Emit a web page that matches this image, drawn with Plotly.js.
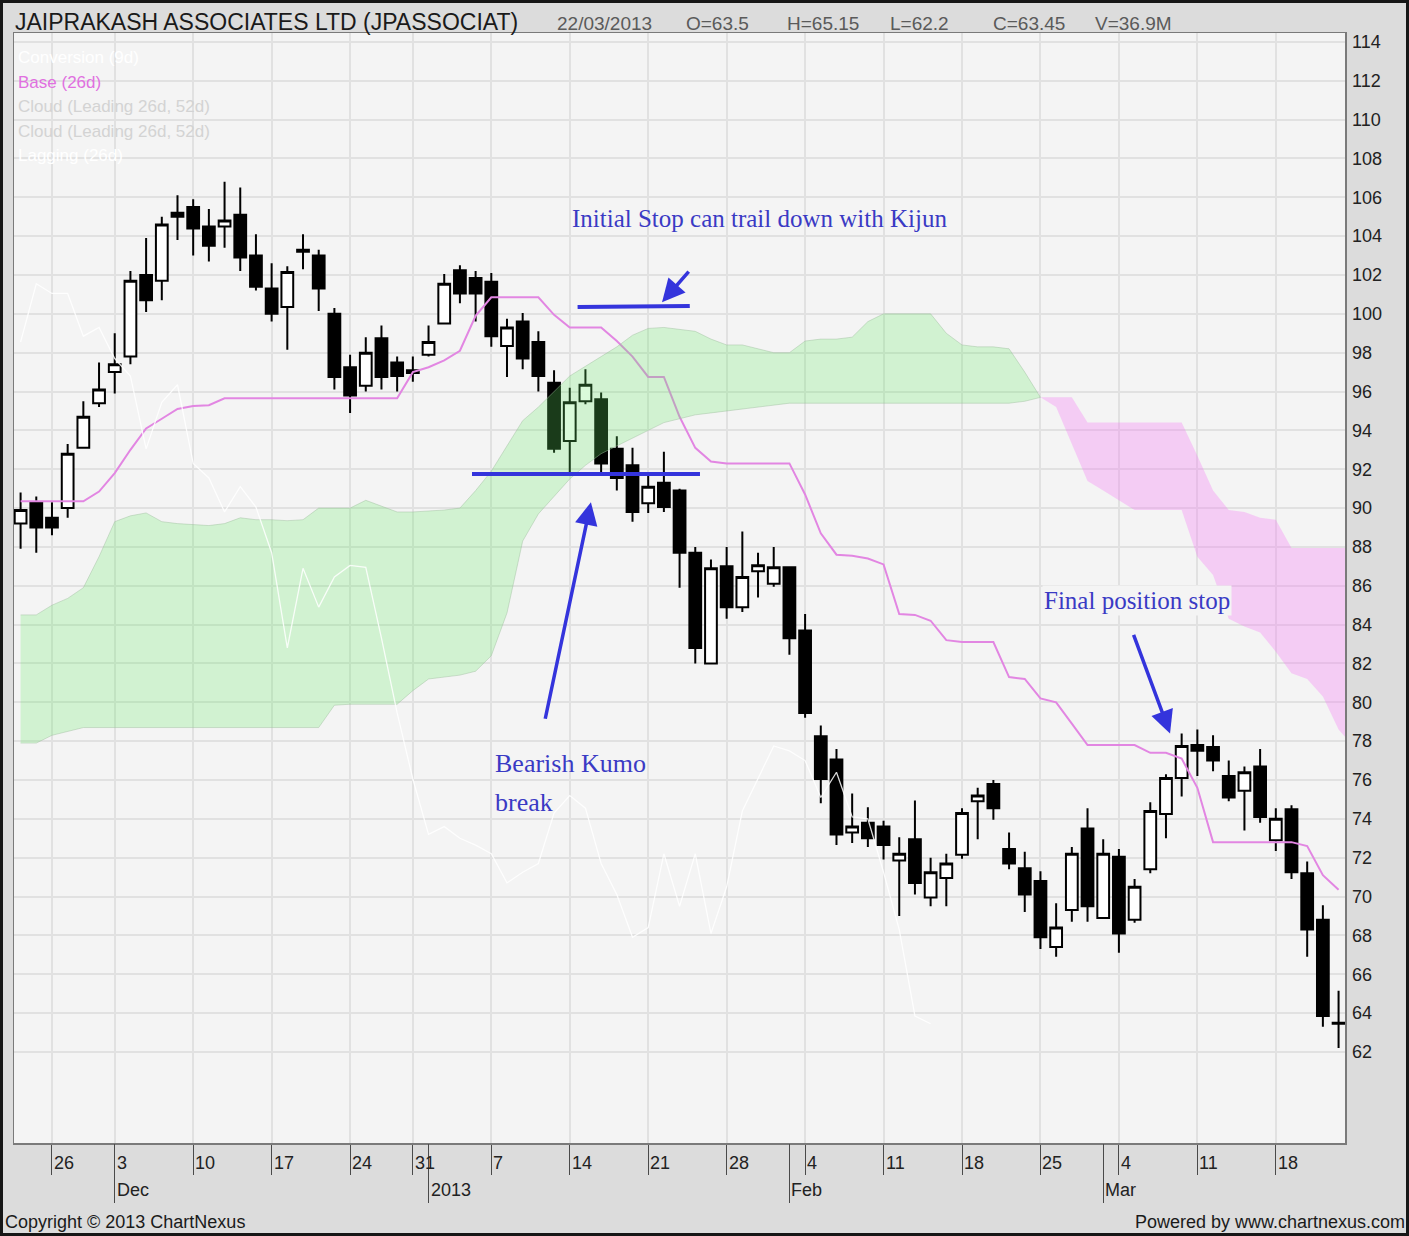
<!DOCTYPE html>
<html>
<head>
<meta charset="utf-8">
<script src="https://cdn.plot.ly/plotly-3.0.1.min.js"></script>
<style>
html,body{margin:0;padding:0;background:#dcdcdc;}
#wrap{position:relative;width:1409px;height:1236px;overflow:hidden;}
#chart{width:1409px;height:1236px;}
#frame{position:absolute;left:0;top:0;width:1409px;height:1236px;box-sizing:border-box;border:3px solid #161616;pointer-events:none;}
</style>
</head>
<body>
<div id="wrap"><div id="chart"></div><div id="frame"></div></div>
<script>
// ---------------- DATA ----------------
const symbolName = 'JAIPRAKASH ASSOCIATES LTD (JPASSOCIAT)';
const volumeText = '36.9M';

const dates = [
 '2012-11-22','2012-11-23','2012-11-26','2012-11-27','2012-11-29','2012-11-30',
 '2012-12-03','2012-12-04','2012-12-05','2012-12-06','2012-12-07','2012-12-10','2012-12-11','2012-12-12','2012-12-13','2012-12-14',
 '2012-12-17','2012-12-18','2012-12-19','2012-12-20','2012-12-21','2012-12-24','2012-12-26','2012-12-27','2012-12-28','2012-12-31',
 '2013-01-01','2013-01-02','2013-01-03','2013-01-04','2013-01-07','2013-01-08','2013-01-09','2013-01-10','2013-01-11',
 '2013-01-14','2013-01-15','2013-01-16','2013-01-17','2013-01-18','2013-01-21','2013-01-22','2013-01-23','2013-01-24','2013-01-25',
 '2013-01-28','2013-01-29','2013-01-30','2013-01-31',
 '2013-02-01','2013-02-04','2013-02-05','2013-02-06','2013-02-07','2013-02-08','2013-02-11','2013-02-12','2013-02-13','2013-02-14','2013-02-15',
 '2013-02-18','2013-02-19','2013-02-20','2013-02-21','2013-02-22','2013-02-25','2013-02-26','2013-02-27','2013-02-28',
 '2013-03-01','2013-03-04','2013-03-05','2013-03-06','2013-03-07','2013-03-08','2013-03-11','2013-03-12','2013-03-13','2013-03-14','2013-03-15',
 '2013-03-18','2013-03-19','2013-03-20','2013-03-21','2013-03-22'
];

const open = [89.2,90.3,89.5,90.0,93.1,95.4,97.0,97.8,102.0,101.7,
 105.2,105.5,104.5,104.5,105.1,103.0,101.3,100.35,103.3,103.0,
 100.0,97.25,96.3,98.75,97.5,97.1,97.9,99.5,102.25,101.85,
 101.65,98.35,99.6,98.55,96.45,93.45,95.5,95.6,93.05,92.2,
 90.25,91.3,90.9,87.7,82.0,87.0,84.9,86.75,86.1,86.95,
 83.7,78.25,77.05,73.3,73.8,73.6,71.85,72.95,69.95,70.95,
 72.15,74.9,75.8,72.45,71.45,70.8,67.4,69.3,73.5,68.9,
 72.05,68.8,71.4,74.25,76.1,77.8,77.7,76.2,75.45,76.7,
 72.9,74.5,71.2,68.8,63.5];
const high = [90.8,90.6,90.3,93.3,95.5,97.5,99.0,102.2,103.9,105.0,
 106.1,105.9,105.4,106.8,106.5,104.1,102.6,102.45,104.1,103.3,
 100.3,97.9,98.8,99.4,97.8,97.8,99.4,102.05,102.5,102.2,
 102.1,99.75,100.05,99.1,97.1,96.2,97.15,95.95,93.7,93.1,
 91.85,92.9,91.0,88.0,87.35,88.0,88.8,87.7,88.0,87.0,
 84.55,78.8,77.6,75.3,74.6,73.9,73.05,74.95,72.0,72.2,
 74.55,75.6,76.0,73.3,72.3,71.3,69.65,72.55,74.55,72.95,
 72.45,70.9,74.85,76.3,78.4,78.6,78.3,77.0,76.7,77.6,
 74.55,74.7,71.8,69.55,65.15];
const low = [87.9,87.7,88.6,89.5,93.1,95.2,95.9,97.4,100.1,100.7,
 103.8,103.0,102.7,103.4,102.2,101.2,99.6,98.15,102.3,100.15,
 96.1,94.9,96.0,96.1,96.0,96.5,97.8,99.5,100.55,99.6,
 98.3,96.75,97.15,96.0,92.85,91.8,95.35,91.8,90.9,89.3,
 89.75,89.8,85.9,82.0,82.0,84.3,84.65,85.4,85.95,82.45,
 79.2,74.8,72.65,72.75,72.55,71.9,69.0,70.1,69.5,69.5,
 71.95,72.95,73.95,71.4,69.2,67.3,66.9,68.7,68.7,68.9,
 67.1,68.65,71.2,73.0,75.15,76.2,76.45,74.9,73.4,73.8,
 72.35,70.9,66.9,63.3,62.2];
const close = [89.9,89.0,89.0,92.8,94.7,96.1,97.4,101.7,100.7,104.6,
 105.0,104.4,103.5,104.8,102.9,101.4,100.0,102.15,103.2,101.3,
 96.75,95.8,98.0,96.75,96.8,96.95,98.55,101.55,101.05,101.05,
 98.85,99.3,97.7,96.8,93.05,95.45,96.35,92.3,91.55,89.8,
 91.1,90.05,87.7,82.8,86.9,84.9,86.45,87.05,86.95,83.3,
 79.45,76.05,73.2,73.6,73.0,72.65,72.2,70.7,71.25,71.7,
 74.3,75.2,74.55,71.7,70.1,67.9,68.4,72.2,69.5,72.2,
 68.1,70.5,74.4,76.1,77.75,77.5,77.0,75.1,76.4,74.1,
 74.0,71.25,68.3,63.85,63.45];

// Base line (Kijun, 26d)
const kijun = [90.35,90.35,90.35,90.35,90.35,90.85,91.8,93.0,94.1,94.6,
 95.1,95.25,95.3,95.65,95.65,95.65,95.65,95.65,95.65,95.65,
 95.65,95.65,95.65,95.65,95.65,97.0,97.25,97.6,98.1,99.9,
 100.85,100.85,100.85,100.85,99.95,99.3,99.3,99.3,98.6,97.8,
 96.75,96.75,94.7,93.1,92.4,92.3,92.3,92.3,92.3,92.3,
 90.7,88.7,87.6,87.55,87.4,87.1,84.55,84.5,84.2,83.2,
 83.1,83.1,83.1,81.3,81.2,80.2,80.0,78.9,77.8,77.8,
 77.8,77.8,77.4,77.4,77.1,75.6,72.8,72.8,72.8,72.8,
 72.8,72.8,72.6,71.1,70.35];

// Cloud: leading span A (26d) and leading span B (52d), as plotted
const spanA = [84.5,84.5,85.0,85.35,85.9,87.5,89.3,89.6,89.75,89.3,
 89.2,89.15,89.1,89.2,89.5,89.4,89.4,89.35,89.4,90.0,
 90.0,90.0,90.4,90.1,89.8,89.8,89.85,89.9,90.0,90.9,
 91.9,93.2,94.5,95.2,96.0,96.8,97.3,97.8,98.3,98.9,
 99.25,99.3,99.2,99.1,98.7,98.4,98.4,98.2,98.0,98.0,
 98.6,98.7,98.7,98.8,99.6,100.0,100.0,100.0,100.0,99.0,
 98.4,98.3,98.3,98.2,97.0,95.7,95.2,93.3,91.4,90.9,
 90.4,89.9,89.9,89.9,89.9,87.5,86.55,84.3,83.9,83.6,
 82.6,81.5,81.2,80.3,78.6,77.7];
const spanB = [77.9,77.9,78.3,78.5,78.7,78.7,78.7,78.7,78.7,78.7,
 78.7,78.7,78.7,78.7,78.7,78.7,78.7,78.7,78.7,78.7,
 79.85,79.9,79.9,79.9,79.9,80.6,81.2,81.3,81.4,81.6,
 82.4,84.6,88.3,89.7,90.6,91.5,92.2,92.8,93.2,93.6,
 94.0,94.4,94.6,94.8,94.9,95.0,95.1,95.2,95.3,95.4,
 95.4,95.4,95.4,95.4,95.4,95.4,95.4,95.4,95.4,95.4,
 95.4,95.4,95.4,95.4,95.5,95.7,95.7,95.7,94.4,94.4,
 94.4,94.4,94.4,94.4,94.4,92.7,90.9,89.9,89.8,89.5,
 89.4,87.95,87.95,87.95,87.95,87.95];

const laggingShift = 26;
const yTicks = [62,64,66,68,70,72,74,76,78,80,82,84,86,88,90,92,94,96,98,100,102,104,106,108,110,112,114];
const monthNames = ['Jan','Feb','Mar','Apr','May','Jun','Jul','Aug','Sep','Oct','Nov','Dec'];
const legendItems = ['Conversion (9d)','Base (26d)','Cloud (Leading 26d, 52d)','Cloud (Leading 26d, 52d)','Lagging (26d)'];

// ---------------- DERIVED ----------------
const idx = dates.map((d,i)=>i);
const dow = dates.map(d => new Date(d+'T00:00:00Z').getUTCDay());
const mon = dates.map(d => +d.slice(5,7));
const weekIdx = [], monthIdx = [];
for (let i=1;i<dates.length;i++){
  if (dow[i] < dow[i-1]) weekIdx.push(i);
  if (mon[i] !== mon[i-1]) monthIdx.push(i);
}
const cloudX = spanA.map((_,i)=>i);
let cross = spanA.findIndex((a,i)=>a < spanB[i]);
if (cross < 0) cross = spanA.length;
const gEnd = cross;            // green: A >= B
const pStart = cross - 1;      // pink: B > A
const lagX = [], lagY = [];
for (let i=laggingShift;i<close.length;i++){ lagX.push(i-laggingShift); lagY.push(close[i]); }

// ---------------- GEOMETRY (layout px) ----------------
const W=1409, H=1236, L=14, R=1345, T=33, B=1143;
const px = x => (x-L)/(R-L);
const py = y => (B-y)/(B-T);
const SANS = 'Liberation Sans, Arial, sans-serif';
const SERIF = 'Liberation Serif, Times New Roman, serif';
const BLUE_TXT = '#3a3ac4';
const BLUE = '#3434dc';

// ---------------- TRACES ----------------
const traces = [
  {type:'candlestick', x:idx, open:open, high:high, low:low, close:close,
   increasing:{line:{color:'#000',width:2}, fillcolor:'#ffffff'},
   decreasing:{line:{color:'#000',width:2}, fillcolor:'#000000'},
   whiskerwidth:0, hoverinfo:'skip', showlegend:false},
  {type:'scatter', mode:'lines', x:idx, y:kijun, line:{color:'#e286e2', width:2}, hoverinfo:'skip'},
  // green cloud (A above B)
  {type:'scatter', mode:'lines', x:cloudX.slice(0,gEnd), y:spanB.slice(0,gEnd), line:{color:'rgba(160,190,160,0.45)', width:1}, hoverinfo:'skip'},
  {type:'scatter', mode:'lines', x:cloudX.slice(0,gEnd), y:spanA.slice(0,gEnd), line:{color:'rgba(160,190,160,0.45)', width:1},
   fill:'tonexty', fillcolor:'rgba(105,235,105,0.25)', hoverinfo:'skip'},
  // pink cloud (B above A)
  {type:'scatter', mode:'lines', x:cloudX.slice(pStart), y:spanA.slice(pStart), line:{color:'rgba(0,0,0,0)', width:0}, hoverinfo:'skip'},
  {type:'scatter', mode:'lines', x:cloudX.slice(pStart), y:spanB.slice(pStart), line:{color:'rgba(0,0,0,0)', width:0},
   fill:'tonexty', fillcolor:'rgba(245,112,245,0.3)', hoverinfo:'skip'},
  // lagging span (white), on overlay axis so it sits above the cloud
  {type:'scatter', mode:'lines', x:lagX, y:lagY, xaxis:'x2', yaxis:'y', line:{color:'rgba(255,255,255,0.85)', width:1.3}, hoverinfo:'skip'}
];

// ---------------- ANNOTATIONS ----------------
const ann = [];
function txt(text, xpx, ypx, opts){
  ann.push(Object.assign({xref:'paper', yref:'paper', x:px(xpx), y:py(ypx), xanchor:'left', yanchor:'middle',
    text:text, showarrow:false, font:{family:SANS, size:18, color:'#222'}}, opts||{}));
}
// header
txt(symbolName, 13, 22, {font:{family:SANS, size:23, color:'#1a1a1a'}});
const last = dates.length-1;
const ld = dates[last];
const headerItems = [
  ld.slice(8,10)+'/'+ld.slice(5,7)+'/'+ld.slice(0,4),
  'O='+open[last], 'H='+high[last], 'L='+low[last], 'C='+close[last], 'V='+volumeText
];
const headerX = [555, 684, 785, 888, 991, 1093];
headerItems.forEach((t,i)=>txt(t, headerX[i], 23, {font:{family:SANS, size:19, color:'#5a5a5a'}}));
// legend
const legendColors = ['#ffffff','#e070e0','#d3d3d3','#d3d3d3','#ffffff'];
const legendY = [58, 82, 107, 131, 155];
legendItems.forEach((t,i)=>txt(t, 16, legendY[i], {font:{family:SANS, size:17, color:legendColors[i]}}));
// footer
txt('Copyright \u00a9 2013 ChartNexus', 3, 1222, {font:{family:SANS, size:18, color:'#1a1a1a'}});
txt('Powered by www.chartnexus.com', 1407, 1222, {xanchor:'right', font:{family:SANS, size:18, color:'#1a1a1a'}});
// x-axis labels (weeks / months)
weekIdx.forEach(i=>{
  ann.push({xref:'x', yref:'paper', x:i, y:0, xanchor:'left', yanchor:'top', xshift:0, yshift:-8,
    text:String(+dates[i].slice(8,10)), showarrow:false, font:{family:SANS, size:18, color:'#222'}});
});
monthIdx.forEach(i=>{
  const m = mon[i];
  ann.push({xref:'x', yref:'paper', x:i, y:0, xanchor:'left', yanchor:'top', xshift:0, yshift:-35,
    text: m===1 ? dates[i].slice(0,4) : monthNames[m-1], showarrow:false, font:{family:SANS, size:18, color:'#222'}});
});
// commentary
txt('Initial Stop can trail down with Kijun', 570, 219, {font:{family:SERIF, size:25, color:BLUE_TXT}});
txt('Bearish Kumo', 493, 764, {font:{family:SERIF, size:26, color:BLUE_TXT}});
txt('break', 493, 802, {font:{family:SERIF, size:26, color:BLUE_TXT}});
txt('Final position stop', 1042, 600, {bgcolor:'#f4f4f4', font:{family:SERIF, size:25, color:BLUE_TXT}});
// arrows (head at data position, tail offset in px)
const arrows = [
  {x:40.88, y:100.6, ax:28, ay:-32},
  {x:36.35, y:90.3, ax:-46, ay:218},
  {x:73.26, y:78.4, ax:-37, ay:-100}
];
arrows.forEach(a=>ann.push({xref:'x', yref:'y', x:a.x, y:a.y, ax:a.ax, ay:a.ay, text:'', showarrow:true,
  arrowhead:2, arrowsize:1.3, arrowwidth:3.5, arrowcolor:BLUE, standoff:0}));

const shapes = [
  {type:'line', xref:'x', yref:'y', x0:35.5, x1:42.65, y0:100.35, y1:100.4, line:{color:BLUE, width:4}, layer:'above'},
  {type:'line', xref:'x', yref:'y', x0:28.77, x1:43.3, y0:91.75, y1:91.75, line:{color:BLUE, width:4}, layer:'above'}
];

const xRange = [-0.42, 84.41];
const layout = {
  width:W, height:H,
  margin:{l:L, r:W-R, t:T, b:H-B, pad:0},
  paper_bgcolor:'#dcdcdc', plot_bgcolor:'#f4f4f4',
  showlegend:false, boxgap:0.25, boxgroupgap:0, hovermode:false, dragmode:false,
  font:{family:SANS, size:18, color:'#222'},
  xaxis:{range:xRange, tickmode:'array', tickvals:weekIdx, showticklabels:false, ticks:'outside', ticklen:30,
    tickcolor:'#4a4a4a', tickwidth:1, showgrid:true, gridcolor:'#e1e1e1', gridwidth:2, zeroline:false,
    showline:true, mirror:true, linecolor:'#7a7a7a', linewidth:1.5, rangeslider:{visible:false}, fixedrange:true},
  xaxis2:{overlaying:'x', matches:'x', anchor:'y', side:'bottom', range:xRange, tickmode:'array', tickvals:monthIdx,
    showticklabels:false, ticks:'outside', ticklen:59, tickcolor:'#4a4a4a', tickwidth:1,
    showgrid:false, zeroline:false, showline:false, fixedrange:true},
  yaxis:{side:'right', range:[57.31, 114.46], tickmode:'array', tickvals:yTicks, ticks:'', showgrid:true,
    gridcolor:'#e1e1e1', gridwidth:2, zeroline:false, showline:true, mirror:true, linecolor:'#7a7a7a', linewidth:1.5,
    tickfont:{family:SANS, size:18, color:'#222'}, ticklabelstandoff:2, fixedrange:true},
  annotations:ann,
  shapes:shapes
};

Plotly.newPlot('chart', traces, layout, {staticPlot:true, displayModeBar:false});
</script>
</body>
</html>
